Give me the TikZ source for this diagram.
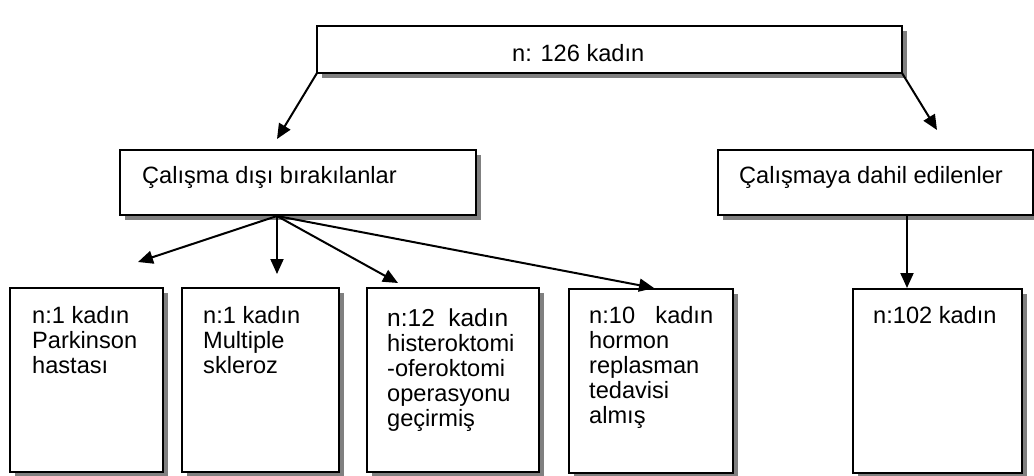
\documentclass[tikz,border=0pt]{standalone}
\usepackage{fontspec}
\setmainfont{Liberation Sans}
\usetikzlibrary{arrows.meta,shadows}
\newcommand{\boxlines}[1]{\begin{tabular}[t]{@{}l@{}}#1\end{tabular}}
\begin{document}
\begin{tikzpicture}[x=1pt,y=-1pt,
  box/.style={draw=black, line width=2pt, fill=white, rectangle, inner sep=0pt, outer sep=0pt, anchor=north west,
    drop shadow={shadow xshift=5pt, shadow yshift=-5pt, fill=black!50, opacity=1}},
  txt/.style={anchor=base west, inner sep=0pt, font=\fontsize{23.6}{25}\selectfont},
  conn/.style={line width=2pt, -{Triangle[length=15pt,width=13pt]}}]
\useasboundingbox (0,0) rectangle (1034,475);

% boxes
\node[box, minimum width=585pt, minimum height=47pt] (top) at (317,26) {};
\node[box, minimum width=356pt, minimum height=65pt] (ml) at (120,150) {};
\node[box, minimum width=315pt, minimum height=65pt] (mr) at (718,150) {};
\node[box, minimum width=153pt, minimum height=184pt] (b1) at (10,288) {};
\node[box, minimum width=157pt, minimum height=184pt] (b2) at (182,288) {};
\node[box, minimum width=172pt, minimum height=184pt] (b3) at (367,288) {};
\node[box, minimum width=164pt, minimum height=184pt] (b4) at (569,289) {};
\node[box, minimum width=169pt, minimum height=184pt] (b5) at (853,289) {};

% texts
\node[txt] (ttop) at (512,61) {n: 126 kadın};
\node[txt] (tml) at (142,183) {Çalışma dışı bırakılanlar};
\node[txt] (tmr) at (739,183) {Çalışmaya dahil edilenler};
\node[txt] (tb1) at (32,323) {\boxlines{n:1 kadın\\Parkinson\\hastası}};
\node[txt] (tb2) at (203,323) {\boxlines{n:1 kadın\\Multiple\\skleroz}};
\node[txt] (tb3) at (387,326) {\boxlines{\makebox[121pt][s]{\fontsize{24.5}{25}\selectfont n:12\hfill kadın}\\histeroktomi\\-oferoktomi\\operasyonu\\geçirmiş}};
\node[txt] (tb4) at (589,323) {\boxlines{\makebox[124pt][s]{n:10\hfill kadın}\\hormon\\replasman\\tedavisi\\almış}};
\node[txt] (tb5) at (873,323) {n:102 kadın};

% connector ends
\coordinate (e1) at (277,139);
\coordinate (e2) at (937,130);
\coordinate (mlo) at (277,216);
\coordinate (f1) at (138,262);
\coordinate (f2) at (277,274);
\coordinate (f3) at (398,283);
\coordinate (f4) at (654,288);
\coordinate (mro) at (907,216);
\coordinate (g1) at (907,288);

\draw[conn] (top.south west) -- (e1);
\draw[conn] (top.south east) -- (e2);
\draw[conn] (mlo) -- (f1);
\draw[conn] (mlo) -- (f2);
\draw[conn] (mlo) -- (f3);
\draw[conn] (mlo) -- (f4);
\draw[conn] (mro) -- (g1);
\end{tikzpicture}
\end{document}
